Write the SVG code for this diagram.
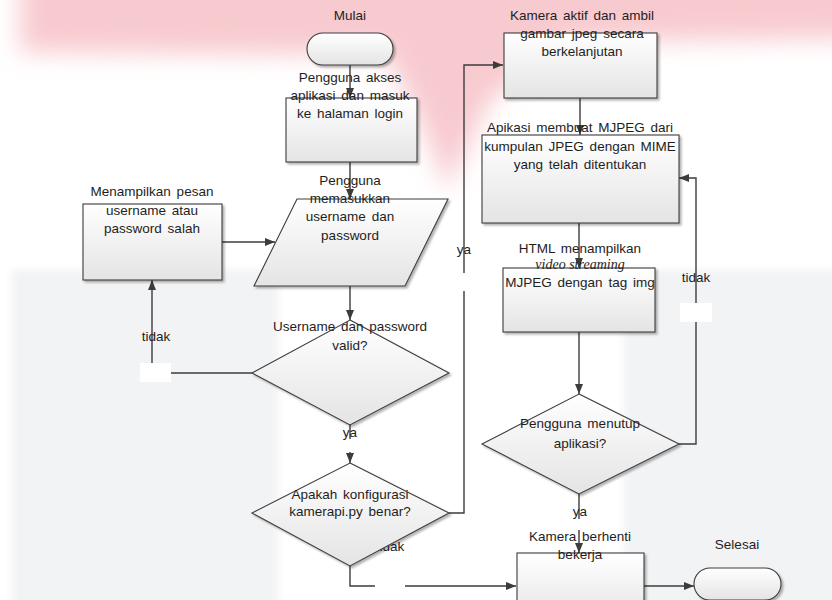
<svg xmlns="http://www.w3.org/2000/svg" width="832" height="600" viewBox="0 0 832 600">
<style>
.t{font-family:"Liberation Sans",Arial,sans-serif;font-size:13.5px;fill:#1e1e1e;text-anchor:middle;word-spacing:2px}
.i{font-family:"Liberation Serif","Times New Roman",serif;font-size:14px;font-style:italic;fill:#1e1e1e;text-anchor:middle}
.s{fill:url(#g);stroke:#3c3c3c;stroke-width:1.1;filter:url(#sh)}
.c{fill:none;stroke:#3c3c3c;stroke-width:1.4}
.a{marker-end:url(#ar)}
.w{fill:#ffffff}
</style>
<defs>
<linearGradient id="g" x1="0" y1="0" x2="0" y2="1">
<stop offset="0" stop-color="#ffffff"/>
<stop offset="1" stop-color="#e4e4e4"/>
</linearGradient>
<filter id="sh" x="-10%" y="-10%" width="130%" height="130%">
<feDropShadow dx="2" dy="2" stdDeviation="1.2" flood-color="#000" flood-opacity="0.3"/>
</filter>
<filter id="bl" filterUnits="userSpaceOnUse" x="-100" y="-100" width="1100" height="500">
<feGaussianBlur stdDeviation="12"/>
</filter>
<filter id="bl2" filterUnits="userSpaceOnUse" x="-100" y="150" width="1100" height="550">
<feGaussianBlur stdDeviation="4"/>
</filter>
<marker id="ar" markerWidth="10" markerHeight="8" refX="10" refY="4" orient="auto" markerUnits="userSpaceOnUse">
<path d="M0,0 L10,4 L0,8 Z" fill="#3c3c3c"/>
</marker>
</defs>
<rect width="832" height="600" fill="#ffffff"/>
<g id="background">
<path d="M20,-40 L870,-40 L870,38 L570,42 L490,100 L448,190 L415,110 L385,55 L20,52 Z" fill="#f5b9c0" opacity="0.75" filter="url(#bl)"/>
<g filter="url(#bl2)">
<rect x="12" y="270" width="266" height="340" fill="#f2f3f5"/>
<rect x="624" y="270" width="220" height="340" fill="#f2f3f5"/>
</g>
</g>
<g id="connectors">
<path class="c a" d="M350,65 V98"/>
<path class="c a" d="M350,162 V199"/>
<path class="c a" d="M222,242 H275"/>
<path class="c a" d="M350,286 V320"/>
<path class="c a" d="M252,373 H152 V280"/>
<path class="c a" d="M350,423 V463"/>
<path class="c a" d="M449,513 H464 V65 H503"/>
<path class="c a" d="M350,566 V586 H516"/>
<path class="c a" d="M580,98 V135"/>
<path class="c a" d="M579,223 V268"/>
<path class="c a" d="M579,332 V394"/>
<path class="c a" d="M679,444 H696 V178 H679"/>
<path class="c a" d="M579,494 V553"/>
<path class="c a" d="M644,586 H694"/>
<rect class="w" x="140" y="363" width="31" height="19"/>
<rect class="w" x="680" y="303" width="32" height="19"/>
<rect class="w" x="458" y="273" width="12" height="18"/>
<rect class="w" x="375" y="579" width="30" height="14"/>
<rect class="w" x="343" y="439" width="14" height="13"/>
<rect class="w" x="573" y="519" width="14" height="11"/>
<text class="t" x="156" y="341">tidak</text>
<text class="t" x="350" y="437">ya</text>
<text class="t" x="390" y="551">tidak</text>
<text class="t" x="464" y="254">ya</text>
<text class="t" x="696" y="282">tidak</text>
<text class="t" x="580" y="516">ya</text>
</g>
<g id="start">
<rect class="s" x="307" y="33" width="86" height="32" rx="16"/>
<text class="t" x="350" y="20">Mulai</text>
</g>
<g id="akses">
<rect class="s" x="286" y="98" width="131" height="64"/>
<text class="t" x="350" y="82">Pengguna akses</text>
<text class="t" x="350" y="100">aplikasi dan masuk</text>
<text class="t" x="350" y="118">ke halaman login</text>
</g>
<g id="input">
<path class="s" d="M297,199 H448 L405,286 H254 Z"/>
<text class="t" x="350" y="185">Pengguna</text>
<text class="t" x="350" y="203">memasukkan</text>
<text class="t" x="350" y="221">username dan</text>
<text class="t" x="350" y="240">password</text>
</g>
<g id="pesan">
<rect class="s" x="83" y="204" width="139" height="76"/>
<text class="t" x="152" y="196">Menampilkan pesan</text>
<text class="t" x="152" y="215">username atau</text>
<text class="t" x="152" y="233">password salah</text>
</g>
<g id="valid">
<path class="s" d="M350,320 L449,373 L350,425 L252,373 Z"/>
<text class="t" x="350" y="331">Username dan password</text>
<text class="t" x="350" y="350">valid?</text>
</g>
<g id="konfigurasi">
<path class="s" d="M350,463 L449,513 L350,566 L252,513 Z"/>
<text class="t" x="350" y="499">Apakah konfigurasi</text>
<text class="t" x="350" y="516">kamerapi.py benar?</text>
</g>
<g id="kamera">
<rect class="s" x="504" y="33" width="153" height="65"/>
<text class="t" x="582" y="20">Kamera aktif dan ambil</text>
<text class="t" x="582" y="38">gambar jpeg secara</text>
<text class="t" x="582" y="56">berkelanjutan</text>
</g>
<g id="mjpeg">
<rect class="s" x="482" y="135" width="197" height="88"/>
<text class="t" x="580" y="132">Apikasi membuat MJPEG dari</text>
<text class="t" x="580" y="151">kumpulan JPEG dengan MIME</text>
<text class="t" x="580" y="169">yang telah ditentukan</text>
</g>
<g id="html">
<rect class="s" x="503" y="268" width="152" height="64"/>
<text class="t" x="580" y="253">HTML menampilkan</text>
<text class="i" x="580" y="269">video streaming</text>
<text class="t" x="580" y="287">MJPEG dengan tag img</text>
</g>
<g id="tutup">
<path class="s" d="M579,394 L679,444 L579,494 L482,444 Z"/>
<text class="t" x="580" y="428">Pengguna menutup</text>
<text class="t" x="580" y="448">aplikasi?</text>
</g>
<g id="berhenti">
<rect class="s" x="517" y="553" width="127" height="70"/>
<text class="t" x="580" y="541">Kamera berhenti</text>
<text class="t" x="580" y="559">bekerja</text>
</g>
<g id="end">
<rect class="s" x="694" y="568" width="87" height="32" rx="16"/>
<text class="t" x="737" y="549">Selesai</text>
</g>
</svg>
